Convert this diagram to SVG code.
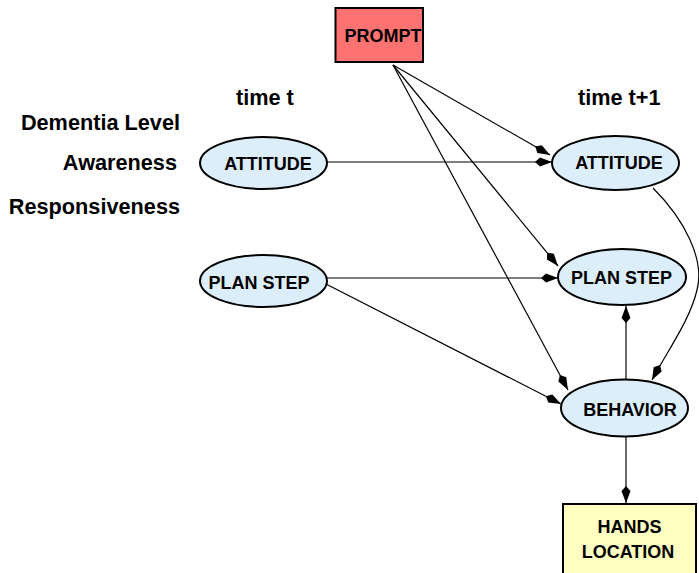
<svg xmlns="http://www.w3.org/2000/svg" width="699" height="573" viewBox="0 0 699 573">
<style>
  .lbl { font-family: "Liberation Sans", Arial, sans-serif; font-weight: bold; font-size: 21.7px; fill: #000; }
  .nt { font-family: "Liberation Sans", Arial, sans-serif; font-weight: bold; font-size: 18px; fill: #000; text-anchor: middle; }
  .ell { fill: #ddeefb; stroke: #000; stroke-width: 2; }
  .edge { fill: none; stroke: #000; stroke-width: 1.2; marker-end: url(#dia); }
</style>
<defs>
  <marker id="dia" markerUnits="userSpaceOnUse" markerWidth="20" markerHeight="12" viewBox="-18 -6 20 12" refX="0" refY="0" orient="auto">
    <path d="M0,0 L-12,-4.5 L-17,0 L-12,4.5 Z" fill="#000"/>
  </marker>
</defs>
<rect width="699" height="573" fill="#fff"/>

<g id="labels">
  <text class="lbl" x="236" y="105">time t</text>
  <text class="lbl" x="578" y="105">time t+1</text>
  <text class="lbl" x="180" y="130" text-anchor="end">Dementia Level</text>
  <text class="lbl" x="177" y="170" text-anchor="end">Awareness</text>
  <text class="lbl" x="180" y="214" text-anchor="end">Responsiveness</text>
</g>

<g id="connectors">
  <line class="edge" x1="393" y1="65" x2="550" y2="155"/>
  <line class="edge" x1="327" y1="162" x2="552" y2="162"/>
  <line class="edge" x1="393" y1="65" x2="558" y2="266"/>
  <line class="edge" x1="327" y1="278" x2="558" y2="278"/>
  <line class="edge" x1="393" y1="65" x2="568" y2="390"/>
  <line class="edge" x1="326" y1="284" x2="561" y2="404"/>
  <path class="edge" d="M653,188 C685,220 705,260 697,290 C690,320 668,350 652,380"/>
  <line class="edge" x1="626" y1="379" x2="626" y2="306"/>
  <line class="edge" x1="626" y1="437" x2="626" y2="503"/>
</g>

<g id="prompt">
  <rect x="335.5" y="8" width="87.5" height="54" fill="#ff7272" stroke="#000" stroke-width="2"/>
  <text class="nt" x="383" y="42">PROMPT</text>
</g>
<g id="attitude_t">
  <ellipse class="ell" cx="263.5" cy="163" rx="63.5" ry="26"/>
  <text class="nt" x="268" y="170">ATTITUDE</text>
</g>
<g id="planstep_t">
  <ellipse class="ell" cx="263.5" cy="281" rx="63.5" ry="26"/>
  <text class="nt" x="259" y="289">PLAN STEP</text>
</g>
<g id="attitude_t1">
  <ellipse class="ell" cx="615.5" cy="163" rx="63.5" ry="27"/>
  <text class="nt" x="619" y="169">ATTITUDE</text>
</g>
<g id="planstep_t1">
  <ellipse class="ell" cx="622" cy="277" rx="64" ry="28"/>
  <text class="nt" x="621.5" y="284">PLAN STEP</text>
</g>
<g id="behavior">
  <ellipse class="ell" cx="624.5" cy="408" rx="63.5" ry="28.5"/>
  <text class="nt" x="630" y="416">BEHAVIOR</text>
</g>
<g id="hands">
  <rect x="563" y="504" width="133" height="75" fill="#ffffc2" stroke="#000" stroke-width="2"/>
  <text class="nt" x="629.5" y="533">HANDS</text>
  <text class="nt" x="628" y="558">LOCATION</text>
</g>
</svg>
